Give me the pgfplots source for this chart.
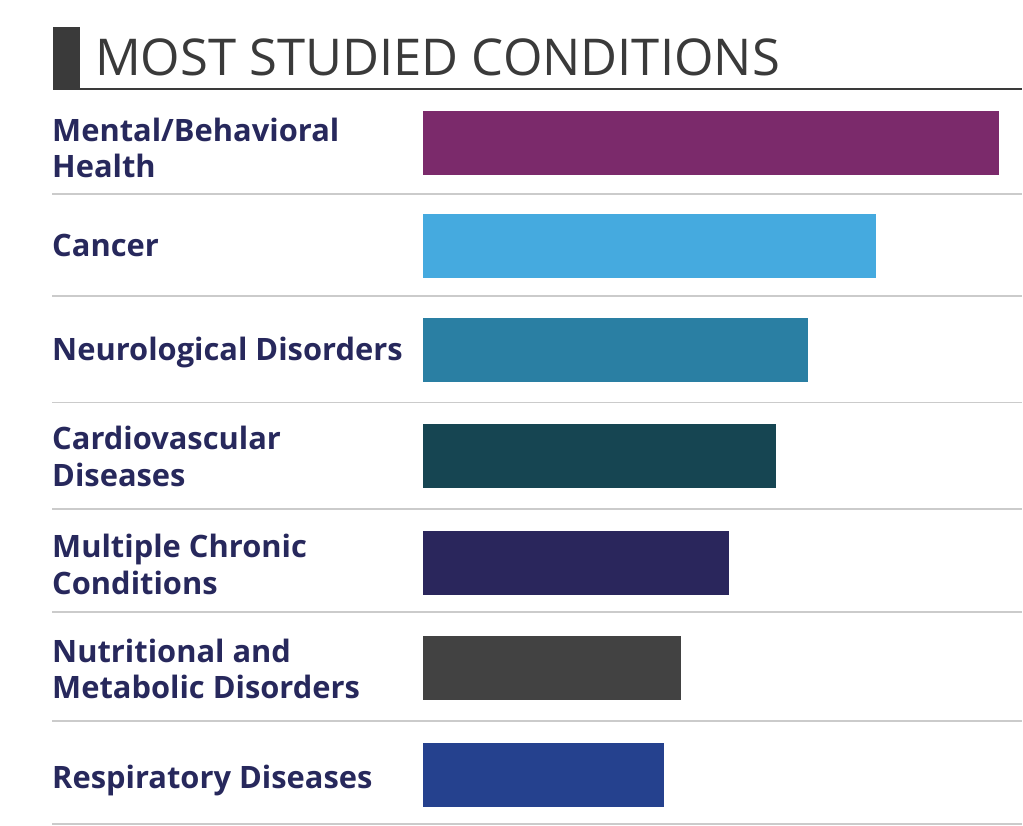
\documentclass[border=0pt]{standalone}
\usepackage{pgfplots}
\pgfplotsset{compat=1.18}
\usepackage{fontspec}
\setmainfont{Open Sans}
\definecolor{cA}{HTML}{7B2A6B}
\definecolor{cB}{HTML}{45AADF}
\definecolor{cC}{HTML}{2A7FA3}
\definecolor{cD}{HTML}{164552}
\definecolor{cE}{HTML}{2A265C}
\definecolor{cF}{HTML}{424242}
\definecolor{cG}{HTML}{25418E}
\definecolor{labelc}{HTML}{27285C}
\definecolor{titlec}{HTML}{3A3A3A}
\definecolor{sepc}{HTML}{CBCBCB}
\begin{document}
\begin{tikzpicture}
\begin{axis}[
  scale only axis, width=1023bp, height=827bp,
  xmin=-423, xmax=600, ymin=0, ymax=827, y dir=reverse,
  axis line style={draw=none}, major tick length=0pt,
  xtick=\empty,
  ytick={148,246,353,457,565,670,781},
  yticklabels={{Mental/Behavioral\\Health},Cancer,Neurological Disorders,{Cardiovascular\\Diseases},{Multiple Chronic\\Conditions},{Nutritional and\\Metabolic Disorders},Respiratory Diseases},
  yticklabel style={anchor=west, xshift=52bp, align=left, font=\fontsize{31}{36.5}\selectfont\bfseries, text=labelc, inner sep=0pt},
  xbar, bar width=64, bar shift=0pt,
  clip=false,
]
\path (axis cs:-423,0) rectangle (axis cs:600,827);
\fill[titlec] (axis cs:-370,27) rectangle (axis cs:-343,90);
\draw[titlec, line width=2.5bp] (axis cs:-370,89) -- (axis cs:600,89);
\node[anchor=base west, inner sep=0pt, text=titlec, font=\fontsize{51}{60}\selectfont] at (axis cs:-328,76) {MOST STUDIED CONDITIONS};
\draw[sepc, line width=1.8bp] (axis cs:-371,194) -- (axis cs:600,194);
\draw[sepc, line width=1.8bp] (axis cs:-371,296) -- (axis cs:600,296);
\draw[sepc, line width=1.8bp] (axis cs:-371,403) -- (axis cs:600,403);
\draw[sepc, line width=1.8bp] (axis cs:-371,510) -- (axis cs:600,510);
\draw[sepc, line width=1.8bp] (axis cs:-371,613) -- (axis cs:600,613);
\draw[sepc, line width=1.8bp] (axis cs:-371,722) -- (axis cs:600,722);
\draw[sepc, line width=1.8bp] (axis cs:-371,825) -- (axis cs:600,825);
\addplot[fill=cA, draw=none] coordinates {(577,143)};
\addplot[fill=cB, draw=none] coordinates {(454,246)};
\addplot[fill=cC, draw=none] coordinates {(386,350)};
\addplot[fill=cD, draw=none] coordinates {(354,457)};
\addplot[fill=cE, draw=none] coordinates {(307,564)};
\addplot[fill=cF, draw=none] coordinates {(259,669)};
\addplot[fill=cG, draw=none] coordinates {(242,776)};
\end{axis}
\end{tikzpicture}
\end{document}
